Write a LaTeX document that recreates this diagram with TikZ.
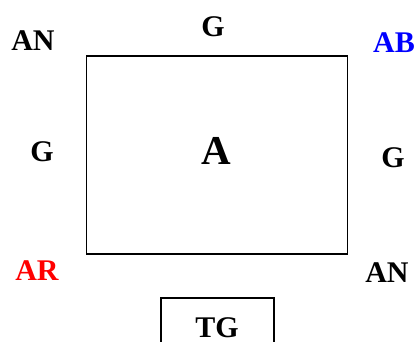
\documentclass[tikz,border=0pt]{standalone}
\usepackage{fontspec}
\setmainfont{Liberation Serif}
\begin{document}
\begin{tikzpicture}[x=1pt,y=-1pt,
  lbl/.style={anchor=base,inner sep=0pt,font=\fontsize{30}{30}\selectfont\bfseries},
  big/.style={anchor=base,inner sep=0pt,font=\fontsize{41}{41}\selectfont\bfseries},
  boxline/.style={draw=black,line width=1.6pt}]
\useasboundingbox (0,0) rectangle (416,342);
\clip (0,0) rectangle (416,342);
\fill[white] (0,0) rectangle (416,342);
\node[boxline,minimum width=261pt,minimum height=198pt,anchor=north west,inner sep=0pt] (main) at (85.5,55.5) {};
\node[boxline,minimum width=113pt,minimum height=60pt,anchor=north west,inner sep=0pt] (tgbox) at (160,297) {};
\node[big] (A) at (216,165) {A};
\node[lbl] (tl) at (33,51) {AN};
\node[lbl] (gt) at (213,37) {G};
\node[lbl,text=blue] (tr) at (394,53) {AB};
\node[lbl] (gl) at (42,162) {G};
\node[lbl] (gr) at (393,168) {G};
\node[lbl,text=red] (bl) at (37,281) {AR};
\node[lbl] (br) at (387,283) {AN};
\node[lbl] (tg) at (217,338) {TG};
\end{tikzpicture}
\end{document}
